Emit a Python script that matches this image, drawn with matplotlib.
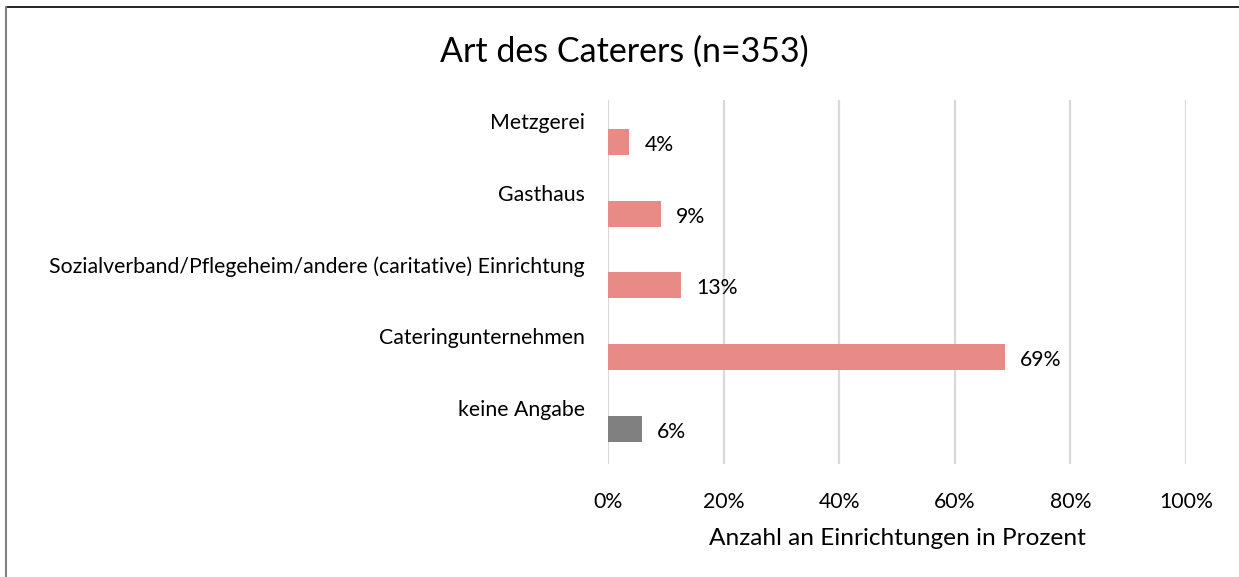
import matplotlib.pyplot as plt
from matplotlib.lines import Line2D
import matplotlib.transforms as mtransforms

# Daten (n=353)
kategorien = ["Metzgerei", "Gasthaus",
              "Sozialverband/Pflegeheim/andere (caritative) Einrichtung",
              "Cateringunternehmen", "keine Angabe"]
anteile = [3.7, 9.1, 12.7, 68.6, 5.9]
farben = ["#E88A86", "#E88A86", "#E88A86", "#E88A86", "#808080"]
xticks = [0, 20, 40, 60, 80, 100]

plt.rcParams['font.family'] = ['Lato', 'DejaVu Sans']

fig = plt.figure(figsize=(12.39, 5.77), dpi=100)
ax = fig.add_axes([608 / 1239, 1 - 464 / 577, 578 / 1239, 364 / 577])

pos = list(range(len(kategorien)))
ax.barh(pos, anteile, height=0.36, color=farben, zorder=3)

for i, v in enumerate(anteile):
    ax.text(v + 2.6, i + 0.04, f"{round(v)}%", va='center', ha='left', fontsize=15.3)

# Kategorienamen oberhalb der Balken
trans = mtransforms.blended_transform_factory(ax.transAxes, ax.transData)
for i, k in enumerate(kategorien):
    ax.text(-0.04, i - 0.26, k, transform=trans, ha='right', va='center', fontsize=15.3)

ax.set_xlim(0, 100)
ax.set_ylim(4.49, -0.585)
ax.set_yticks([])
ax.set_xticks(xticks)
ax.set_xticklabels([f"{t}%" for t in xticks], fontsize=15.3)
ax.tick_params(axis='x', length=0, pad=20)
ax.grid(True, axis='x', color='#d9d9d9', linewidth=1.6, zorder=0)
for s in ax.spines.values():
    s.set_visible(False)
ax.set_xlabel("Anzahl an Einrichtungen in Prozent", fontsize=17.6, labelpad=12)

fig.text(0.504, 1 - 52 / 577, "Art des Caterers (n=353)", ha='center', va='center', fontsize=24.5)

# Rahmen (oben und links sichtbar)
fig.add_artist(Line2D([6 / 1239, 1], [1 - 7 / 577, 1 - 7 / 577], color='black', linewidth=1.2))
fig.add_artist(Line2D([6 / 1239, 6 / 1239], [0, 1 - 7 / 577], color='#808080', linewidth=1.5))

fig.savefig("out.png", dpi=100)
